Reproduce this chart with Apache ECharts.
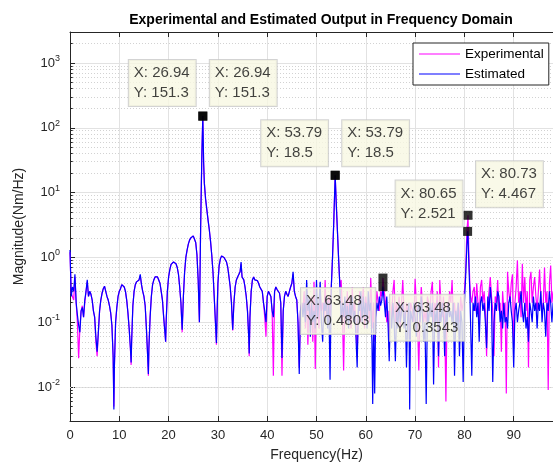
<!DOCTYPE html>
<html>
<head>
<meta charset="utf-8">
<script src="https://cdn.jsdelivr.net/npm/echarts@6/dist/echarts.min.js"></script>
<style>html,body{margin:0;padding:0;background:#fff}#c{width:553px;height:466px}</style>
</head>
<body>
<div id="c"></div>
<script>
// ---------------- DATA ----------------
const freqA = [0,0.25,0.5,0.75,1,1.25,1.5,1.75,2,2.25,2.5,2.75,3,3.25,3.5,3.75,4,4.25,4.5,4.75,5,5.25,5.5,5.75,6,6.25,6.5,6.75,7,7.25,7.5,7.75,8,8.25,8.5,8.75,8.9,9,9.25,9.5,9.75];
const estA = [1.3,0.25,0.35,0.3,0.55,0.2,0.13,0.09,0.07,0.15,0.17,0.12,0.22,0.3,0.45,0.25,0.3,0.27,0.22,0.15,0.12,0.06,0.035,0.07,0.15,0.22,0.28,0.33,0.36,0.3,0.25,0.22,0.18,0.14,0.09,0.03,0.0045,0.02,0.1,0.17,0.25];
const expA = [1.2,0.28,0.3,0.22,0.5,0.2,0.1,0.028,0.08,0.15,0.18,0.12,0.2,0.3,0.42,0.25,0.3,0.27,0.22,0.15,0.12,0.05,0.03,0.07,0.15,0.22,0.28,0.33,0.36,0.3,0.25,0.22,0.18,0.14,0.09,0.03,0.005,0.02,0.1,0.17,0.25];

const freqB = [10,10.25,10.5,10.75,11,11.25,11.5,11.75,12,12.25,12.4,12.5,12.75,13,13.25,13.5,13.75,14,14.25,14.5,14.75,15,15.25,15.5,15.75,15.9,16,16.25,16.5,16.75,17,17.25,17.5,17.75,18,18.25,18.5,18.75,19,19.25,19.4,19.5,19.75];
const estB = [0.3,0.33,0.38,0.4,0.35,0.3,0.22,0.14,0.08,0.04,0.024,0.05,0.18,0.3,0.38,0.42,0.4,0.45,0.55,0.38,0.3,0.25,0.18,0.08,0.03,0.016,0.04,0.12,0.25,0.38,0.45,0.5,0.52,0.5,0.45,0.4,0.3,0.22,0.12,0.07,0.05,0.1,0.3];
const expB = [0.3,0.33,0.38,0.4,0.35,0.3,0.22,0.14,0.08,0.04,0.022,0.05,0.18,0.3,0.38,0.42,0.4,0.45,0.52,0.38,0.3,0.25,0.18,0.08,0.03,0.015,0.04,0.12,0.25,0.38,0.45,0.5,0.52,0.5,0.45,0.4,0.3,0.22,0.12,0.07,0.05,0.1,0.3];

const freqC = [20,20.25,20.5,20.75,21,21.25,21.5,21.75,22,22.25,22.5,22.75,23,23.25,23.5,23.75,24,24.25,24.5,24.75,25,25.25,25.5,25.75,26,26.25,26.5,26.75,26.94,27.1,27.25,27.5,27.75,28,28.25,28.5,28.75,29,29.25,29.5,29.7,29.85];
const estC = [0.5,0.65,0.78,0.82,0.85,0.82,0.8,0.7,0.55,0.35,0.2,0.077,0.25,0.6,1.0,1.3,1.6,1.85,2.0,2.1,2.15,2.05,1.7,1.1,0.45,0.1,3,40,151.3,30,14,8,5.5,3.8,2.7,1.8,1.1,0.6,0.25,0.1,0.048,0.15];
const expC = [0.5,0.65,0.78,0.82,0.85,0.82,0.8,0.7,0.55,0.35,0.2,0.07,0.25,0.6,1.0,1.3,1.6,1.85,2.0,2.1,2.15,2.05,1.7,1.1,0.45,0.1,3,40,151.3,30,14,8,5.5,3.8,2.7,1.8,1.1,0.6,0.25,0.1,0.045,0.15];

const freqD = [30,30.25,30.5,30.75,31,31.25,31.5,31.75,32,32.25,32.5,32.75,33,33.25,33.5,33.75,34,34.25,34.5,34.7,34.9,35.25,35.5,35.75,36,36.25,36.35,36.5,36.75,37,37.25,37.5,37.75,38,38.25,38.5,38.75,39,39.25,39.5,39.75,40,40.25,40.5,40.75,41,41.25,41.5,41.75,42,42.25,42.5,42.75,43,43.25,43.5,43.75,44,44.25,44.5,44.75,45,45.25,45.5,45.75,46,46.25,46.5,46.75];
const estD = [0.4,0.75,0.95,1.05,1.0,1.0,0.95,0.85,0.7,0.5,0.35,0.2,0.077,0.2,0.35,0.45,0.5,0.52,0.6,0.85,0.5,0.45,0.35,0.25,0.15,0.06,0.033,0.12,0.3,0.45,0.5,0.45,0.42,0.44,0.4,0.35,0.33,0.3,0.2,0.15,0.1,0.25,0.3,0.32,0.25,0.15,0.12,0.3,0.35,0.32,0.3,0.28,0.2,0.028,0.15,0.25,0.3,0.27,0.25,0.3,0.35,0.4,0.6,0.3,0.25,0.22,0.1,0.016,0.15];
const expD = [0.4,0.75,0.95,1.05,1.0,1.0,0.95,0.85,0.7,0.5,0.35,0.2,0.075,0.2,0.35,0.45,0.5,0.52,0.6,0.8,0.5,0.45,0.35,0.25,0.15,0.06,0.03,0.12,0.3,0.45,0.5,0.45,0.42,0.44,0.4,0.35,0.33,0.3,0.2,0.12,0.06,0.25,0.3,0.32,0.25,0.15,0.015,0.3,0.35,0.32,0.3,0.28,0.2,0.015,0.15,0.25,0.3,0.27,0.25,0.3,0.35,0.4,0.55,0.3,0.25,0.22,0.1,0.02,0.15];

const freqE = [47,47.25,47.5,47.75,48,48.25,48.5,48.75,49,49.25,49.5,49.75,50,50.25,50.5,50.75,51,51.25,51.5,51.75,52,52.25,52.5,52.75,53,53.25,53.5,53.79,54,54.25,54.5,54.75,55,55.25,55.5,55.75,56,56.25,56.5,56.75,57,57.25,57.5,57.75,58,58.25,58.5,58.75,59,59.25,59.5,59.75,60,60.25,60.5,60.75,61,61.25,61.4,61.6,61.8,62,62.25,62.5,62.75,63,63.25,63.48,63.75];
const estE = [0.2,0.12,0.2,0.1,0.45,0.15,0.25,0.06,0.2,0.1,
              0.15,0.08,0.45,0.12,0.2,0.42,0.1,0.05,0.2,0.15,
              0.25,0.08,0.2,0.013,0.35,1.0,3.5,18.5,7,2.5,
              0.9,0.35,0.1,0.2,0.12,0.25,0.1,0.18,0.08,0.2,
              0.12,0.25,0.1,0.15,0.06,0.02,0.2,0.15,0.3,0.1,
              0.25,0.12,0.2,0.08,0.3,0.15,0.2,0.05,0.0055,0.1,
              0.008,0.12,0.2,0.15,0.25,0.18,0.22,0.3543,0.2];
const expE = [0.2,0.15,0.3,0.08,0.3,0.045,0.2,0.12,0.25,0.05,
              0.42,0.019,0.2,0.15,0.08,0.3,0.15,0.2,0.1,0.45,
              0.12,0.2,0.25,0.1,0.35,1.0,3.5,18.5,7,2.5,
              0.9,0.35,0.45,0.15,0.018,0.2,0.12,0.3,0.1,0.25,
              0.08,0.35,0.12,0.2,0.1,0.03,0.15,0.3,0.1,0.2,
              0.35,0.08,0.25,0.15,0.2,0.1,0.48,0.15,0.08,0.2,
              0.05,0.15,0.3,0.2,0.15,0.3,0.25,0.4803,0.3];

const freqF = [64,64.25,64.5,64.75,65,65.25,65.5,65.75,66,66.25,66.5,66.75,67,67.25,67.5,67.75,68,68.25,68.5,68.75,68.9,69.1,69.5,69.75,70,70.25,70.5,70.75,71,71.25,71.5,71.75,72,72.25,72.5,72.75,73,73.25,73.5,73.75,74,74.25,74.5,74.75,75,75.25,75.5,75.75,76,76.25,76.5,76.75,77,77.25,77.5,77.75,78,78.25,78.5,78.75,79,79.25,79.5,79.75,80,80.25,80.5,80.65,80.73,80.9,81.1];
const estF = [0.12,0.25,0.1,0.025,0.15,0.08,0.2,0.1,0.025,0.15,
              0.08,0.2,0.1,0.15,0.2,0.08,0.15,0.02,0.12,0.2,
              0.0045,0.15,0.1,0.2,0.12,0.06,0.15,0.2,0.1,0.25,
              0.12,0.05,0.1,0.0055,0.15,0.1,0.2,0.12,0.2,0.011,
              0.15,0.1,0.2,0.03,0.15,0.1,0.2,0.12,0.03,0.15,
              0.1,0.2,0.12,0.15,0.1,0.2,0.015,0.15,0.08,0.2,
              0.03,0.15,0.1,0.012,0.2,0.5,1.5,2.521,2.2,0.8,
              0.3];
const expF = [0.2,0.1,0.15,0.04,0.2,0.12,0.3,0.45,0.1,0.2,
              0.12,0.25,0.08,0.2,0.45,0.15,0.1,0.2,0.15,0.1,
              0.05,0.2,0.15,0.1,0.47,0.2,0.1,0.018,0.15,0.35,
              0.2,0.1,0.15,0.1,0.25,0.2,0.15,0.3,0.42,0.1,
              0.2,0.15,0.3,0.02,0.45,0.2,0.12,0.25,0.1,0.006,
              0.2,0.15,0.3,0.2,0.45,0.12,0.2,0.1,0.15,0.2,
              0.1,0.25,0.15,0.2,0.3,0.6,2.5,3.5,4.467,1.2,
              0.4];

const freqG = [81.25,81.5,81.75,82,82.25,82.5,82.75,83,83.25,83.5,83.75,84,84.25,84.5,84.75,85,85.25,85.5,85.75,86,86.25,86.5,86.75,87,87.25,87.5,87.75,88,88.25,88.5,88.75,89,89.25,89.5,89.75,90,90.25,90.5,90.75,91,91.25,91.5,91.75,92,92.25,92.5,92.75,93,93.25,93.5,93.75,94,94.25,94.5,94.75,95,95.25,95.5,95.75,96,96.25,96.5,96.75,97,97.25,97.5,97.75,98,98.25,98.5,98.75,99,99.25,99.5,99.75,100];
const estG = [0.3,0.015,0.2,0.15,0.25,0.12,0.2,0.05,0.2,0.25,
              0.15,0.2,0.1,0.04,0.25,0.15,0.35,0.2,0.012,0.1,
              0.2,0.15,0.3,0.25,0.1,0.15,0.08,0.2,0.1,0.12,
              0.08,0.2,0.25,0.15,0.1,0.02,0.15,0.2,0.1,0.15,
              0.2,0.3,0.15,0.1,0.2,0.08,0.12,0.05,0.2,0.15,
              0.1,0.25,0.15,0.2,0.08,0.2,0.15,0.3,0.1,0.2,
              0.15,0.06,0.2,0.15,0.3,0.2,0.1,0.2,0.15,0.25,
              0.12,0.2,0.1,0.15,0.25,0.2];
const expG = [0.25,0.2,0.3,0.35,0.15,0.4,0.2,0.1,0.35,0.45,
              0.2,0.3,0.15,0.03,0.2,0.3,0.5,0.25,0.15,0.03,
              0.25,0.2,0.45,0.15,0.2,0.035,0.3,0.15,0.2,0.008,
              0.6,0.3,0.2,0.4,0.55,0.04,0.2,0.35,0.9,0.2,
              0.3,0.12,0.8,0.2,0.5,0.15,0.3,0.02,0.45,0.6,
              0.2,0.35,0.5,0.25,0.15,0.3,0.65,0.25,0.15,0.2,
              0.7,0.2,0.3,0.009,0.4,0.75,0.2,0.3,0.25,0.5,
              0.2,0.3,0.15,0.4,0.2,0.25];

// data tips
const tipX = [26.94, 26.94, 53.79, 53.79, 80.65, 80.73, 63.48, 63.48];
const tipY = [151.3, 151.3, 18.5, 18.5, 2.521, 4.467, 0.4803, 0.3543];

const seriesNames = ['Experimental', 'Estimated'];

// ---------------- BUILD ----------------
const freq = [].concat(freqA, freqB, freqC, freqD, freqE, freqF, freqG);
const est = [].concat(estA, estB, estC, estD, estE, estF, estG);
const exp = [].concat(expA, expB, expC, expD, expE, expF, expG);

const FONT = '"Liberation Sans", Arial, Helvetica, sans-serif';
const AX = '#262626';

// label box top-left relative to marker centre (style only)
const tipBoxPos = [[-74,-56],[7,-56],[-74,-55],[7,-55],[-72,-51],[8,-54],[-82,10],[7,8]];
const MS = 9;

const minorVals = [];
for (let k = -3; k <= 3; k++) {
  for (let m = 2; m <= 9; m++) {
    const v = m * Math.pow(10, k);
    if (v > 0.003 && v < 3000) minorVals.push(+v.toPrecision(3));
  }
}

const markData = [];
minorVals.forEach(v => markData.push({ yAxis: v }));
minorVals.forEach(v => markData.push([
  { coord: [0, v], lineStyle: { type: 'solid', color: AX, width: 1 } },
  { coord: [0.55, v] }
]));

const chart = echarts.init(document.getElementById('c'), null, { renderer: 'canvas' });
chart.setOption({
  animation: false,
  backgroundColor: '#ffffff',
  title: {
    text: 'Experimental and Estimated Output in Frequency Domain',
    left: 316, top: 8, textAlign: 'center',
    textStyle: { fontFamily: FONT, fontSize: 14, fontWeight: 'bold', color: '#000' }
  },
  grid: { left: 70, right: -10, top: 32, bottom: 45, containLabel: false, outerBoundsMode: 'none' },
  legend: {
    data: seriesNames, z: 20,
    orient: 'vertical', left: 413, top: 43,
    icon: 'rect', itemWidth: 41, itemHeight: 1.2, itemGap: 4,
    padding: [3, 5, 3, 6],
    backgroundColor: '#ffffff', borderColor: '#262626', borderWidth: 1, borderRadius: 0,
    textStyle: { fontFamily: FONT, fontSize: 13.5, color: '#000', lineHeight: 16 }
  },
  xAxis: [{
    type: 'value', min: 0, max: 100, interval: 10,
    axisLine: { show: true, onZero: false, lineStyle: { color: AX } },
    axisTick: { show: true, inside: true, length: 5, lineStyle: { color: AX } },
    axisLabel: { color: AX, fontSize: 13, margin: 8, fontFamily: FONT },
    splitLine: { show: true, lineStyle: { color: '#e2e2e2' } },
    name: 'Frequency(Hz)', nameLocation: 'middle', nameGap: 27,
    nameTextStyle: { fontFamily: FONT, fontSize: 14, color: AX }
  }, {
    type: 'value', position: 'top', min: 0, max: 100, interval: 10,
    axisLine: { show: true, onZero: false, lineStyle: { color: AX } },
    axisTick: { show: true, inside: true, length: 5, lineStyle: { color: AX } },
    axisLabel: { show: false }, splitLine: { show: false }
  }],
  yAxis: {
    type: 'log', logBase: 10, min: 0.003, max: 3000,
    axisLine: { show: true, onZero: false, lineStyle: { color: AX } },
    axisTick: { show: true, inside: true, length: 5, lineStyle: { color: AX } },
    axisLabel: {
      margin: 10, color: AX, fontFamily: FONT,
      formatter: function (v) {
        const e = Math.log10(v), r = Math.round(e);
        if (Math.abs(e - r) > 1e-6) return '';
        return '{b|10}{s|' + r + '}';
      },
      rich: {
        b: { fontSize: 13, color: AX, fontFamily: FONT },
        s: { fontSize: 9, color: AX, fontFamily: FONT, padding: [0, 0, 9, 0] }
      }
    },
    splitLine: { show: true, lineStyle: { color: '#e2e2e2' } },
    name: 'Magnitude(Nm/Hz)', nameLocation: 'middle', nameGap: 44,
    nameTextStyle: { fontFamily: FONT, fontSize: 14, color: AX }
  },
  series: [
    {
      name: 'grid-minor', type: 'line', data: [], silent: true, z: 1,
      markLine: {
        z: 1, silent: true, symbol: ['none', 'none'], animation: false,
        label: { show: false },
        lineStyle: { type: [1, 2], color: '#d2d2d2', width: 1 },
        emphasis: { disabled: true },
        data: markData
      }
    },
    {
      name: seriesNames[0], type: 'line', z: 2,
      data: freq.map((f, i) => [f, exp[i]]),
      showSymbol: false, symbol: 'none',
      lineStyle: { color: '#ff00ff', width: 1.2 }, itemStyle: { color: '#ff00ff' }
    },
    {
      name: seriesNames[1], type: 'line', z: 3,
      data: freq.map((f, i) => [f, est[i]]),
      showSymbol: false, symbol: 'none',
      lineStyle: { color: '#0000ff', width: 1.2 }, itemStyle: { color: '#0000ff' }
    },
    {
      name: 'tips', type: 'scatter', z: 10, symbol: 'rect', symbolSize: MS,
      itemStyle: { color: '#000' },
      data: tipX.map((x, i) => ({
        value: [x, tipY[i]],
        label: {
          show: true,
          position: [tipBoxPos[i][0] + MS / 2, tipBoxPos[i][1] + MS / 2],
          align: 'left', verticalAlign: 'top',
          formatter: 'X: ' + x + '\nY: ' + tipY[i],
          fontFamily: FONT, fontSize: 15, lineHeight: 20, color: '#111',
          backgroundColor: '#f8f8e2', borderColor: '#c8c8c8', borderWidth: 1,
          padding: [3, 6, 3, 5]
        }
      }))
    }
  ]
});
</script>
</body>
</html>
